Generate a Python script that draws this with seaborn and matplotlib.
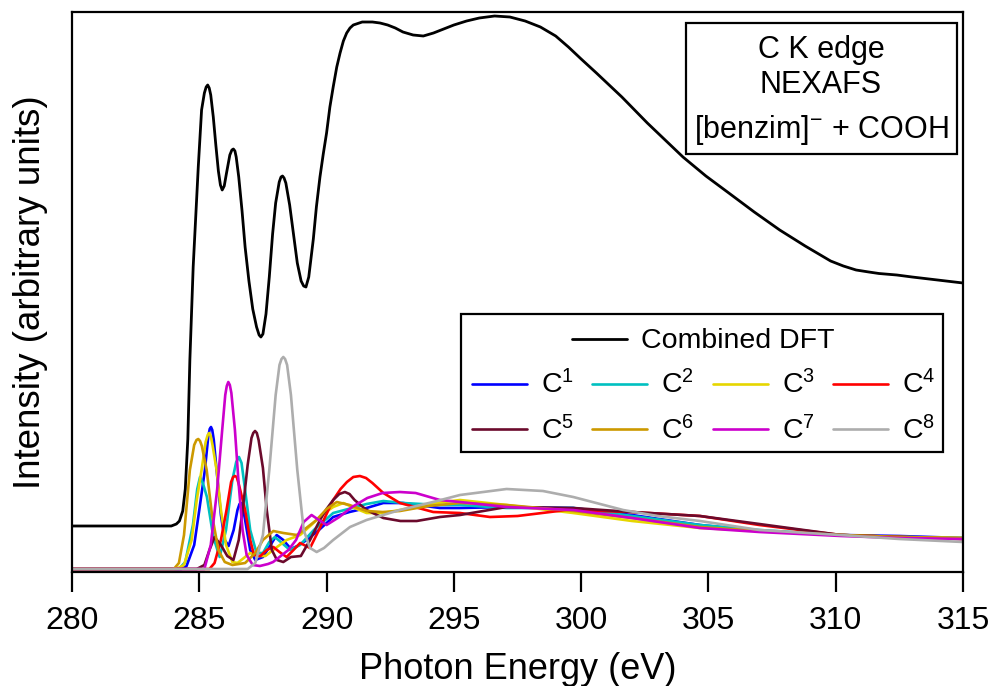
import matplotlib
matplotlib.use("Agg")
import matplotlib.pyplot as plt
import seaborn as sns
from matplotlib.lines import Line2D
from matplotlib.patches import Rectangle

# ---------------- data ----------------
combined_E = [280, 283.9, 284.1, 284.22, 284.35, 284.45, 284.55, 284.63, 284.76, 284.88, 284.96,
              285.09, 285.2, 285.27, 285.33, 285.39, 285.45, 285.55, 285.65, 285.75, 285.83, 285.9,
              285.98, 286.07, 286.2, 286.28, 286.34, 286.4, 286.45, 286.55, 286.68, 286.8, 286.95,
              287.1, 287.25, 287.35, 287.42, 287.5, 287.62, 287.75, 287.88, 288.0, 288.14, 288.21,
              288.27, 288.33, 288.4, 288.55, 288.7, 288.85, 289.0, 289.1, 289.19, 289.3, 289.48,
              289.6, 289.74, 289.87, 290.0, 290.13, 290.26, 290.4, 290.53, 290.66, 290.79, 290.92,
              291.05, 291.4, 291.8, 292.1, 292.4, 292.7, 293.0, 293.4, 293.8, 294.2, 294.6, 295.0,
              295.5, 296.0, 296.6, 297.2, 297.8, 298.4, 299.0, 299.5, 300.0, 300.6, 301.1, 301.6,
              302.1, 302.6, 303.3, 304.0, 304.9, 305.8, 306.8, 307.8, 308.8, 309.8, 310.3, 310.8,
              311.3, 311.7, 312.4, 313.0, 314.0, 315.0]
combined_I = [0.43, 0.43, 0.45, 0.48, 0.58, 0.80, 1.30, 2.09, 3.02, 3.62, 4.02,
              4.59, 4.76, 4.82, 4.84, 4.81, 4.74, 4.52, 4.24, 3.98, 3.84, 3.79,
              3.83, 3.96, 4.14, 4.19, 4.20, 4.18, 4.12, 3.92, 3.58, 3.22, 2.88,
              2.60, 2.42, 2.34, 2.32, 2.35, 2.55, 2.92, 3.35, 3.66, 3.87, 3.92,
              3.93, 3.91, 3.86, 3.64, 3.35, 3.06, 2.88, 2.83, 2.82, 2.92, 3.30,
              3.62, 3.92, 4.15, 4.36, 4.62, 4.82, 5.02, 5.16, 5.28, 5.36, 5.41,
              5.44, 5.47, 5.47, 5.46, 5.44, 5.41, 5.37, 5.34, 5.33, 5.36, 5.40, 5.44,
              5.48, 5.51, 5.53, 5.52, 5.48, 5.42, 5.33, 5.22, 5.10, 4.96, 4.84, 4.72,
              4.59, 4.46, 4.29, 4.12, 3.93, 3.76, 3.57, 3.39, 3.23, 3.08, 3.03, 2.99,
              2.97, 2.955, 2.94, 2.92, 2.89, 2.86]

c1_E = [280, 284.3, 284.5, 284.8, 285.0, 285.22, 285.35, 285.41, 285.46, 285.51, 285.57, 285.68,
        285.85, 286.0, 286.15, 286.35, 286.5, 286.58, 286.64, 286.7, 286.8, 287.0, 287.2, 287.5,
        287.8, 288.04, 288.3, 288.6, 288.85, 289.22, 289.7, 290.26, 290.9, 291.57, 292.23, 293.0,
        294.45, 295.24, 297.07, 299.69, 302.0, 304.67, 307.0, 310.2, 312.5, 315]
c1_I = [0, 0, 0.03, 0.24, 0.59, 0.99, 1.32, 1.40, 1.42, 1.39, 1.29, 0.99,
        0.54, 0.29, 0.23, 0.39, 0.59, 0.65, 0.66, 0.63, 0.49, 0.19, 0.09, 0.12,
        0.24, 0.34, 0.29, 0.20, 0.23, 0.29, 0.39, 0.52, 0.57, 0.61, 0.66, 0.66,
        0.61, 0.61, 0.62, 0.61, 0.54, 0.44, 0.38, 0.34, 0.33, 0.31]

c2_E = [280, 284.2, 284.45, 284.75, 284.92, 285.03, 285.14, 285.3, 285.55, 285.8, 286.05, 286.3,
        286.45, 286.56, 286.66, 286.8, 287.0, 287.25, 287.5, 287.75, 287.97, 288.2, 288.56,
        288.96, 289.5, 290.26, 291.0, 291.57, 292.23, 293.0, 294.45, 295.24, 297.07, 299.69,
        302.0, 304.67, 307.0, 310.2, 312.5, 315]
c2_I = [0, 0, 0.07, 0.44, 0.80, 0.92, 0.86, 0.72, 0.32, 0.12, 0.39, 0.89,
        1.07, 1.12, 1.06, 0.79, 0.39, 0.16, 0.16, 0.27, 0.32, 0.27, 0.19,
        0.24, 0.39, 0.56, 0.61, 0.65, 0.68, 0.66, 0.64, 0.64, 0.61, 0.61,
        0.53, 0.44, 0.39, 0.34, 0.32, 0.31]

c3_E = [280, 284.1, 284.4, 284.7, 284.9, 285.09, 285.25, 285.33, 285.39, 285.45, 285.52, 285.68,
        285.85, 286.05, 286.3, 286.5, 286.75, 287.0, 287.3, 287.6, 288.0, 288.43, 288.96, 289.4,
        289.8, 290.26, 290.66, 291.1, 291.57, 292.2, 292.88, 294.0, 295.24, 297.07, 299.69,
        302.0, 304.67, 307.0, 310.2, 312.5, 315]
c3_I = [0, 0, 0.04, 0.29, 0.69, 0.99, 1.27, 1.34, 1.36, 1.33, 1.24, 0.99,
        0.59, 0.24, 0.07, 0.06, 0.11, 0.16, 0.13, 0.13, 0.21, 0.29, 0.34, 0.44,
        0.54, 0.62, 0.66, 0.61, 0.56, 0.56, 0.59, 0.65, 0.69, 0.64, 0.56,
        0.48, 0.41, 0.38, 0.34, 0.32, 0.31]

c4_E = [280, 285.4, 285.6, 285.85, 286.07, 286.25, 286.33, 286.4, 286.47, 286.55, 286.8, 287.0,
        287.15, 287.4, 287.65, 287.91, 288.15, 288.43, 288.7, 288.96, 289.35, 289.7, 290.0,
        290.26, 290.55, 290.8, 291.05, 291.31, 291.55, 291.8, 292.23, 292.88, 294.19, 295.24,
        296.42, 297.5, 299.43, 302.0, 304.67, 307.0, 310.2, 312.5, 315]
c4_I = [0, 0, 0.06, 0.29, 0.59, 0.87, 0.92, 0.93, 0.92, 0.85, 0.59, 0.29,
        0.14, 0.13, 0.19, 0.22, 0.17, 0.12, 0.19, 0.26, 0.21, 0.39, 0.55,
        0.69, 0.80, 0.87, 0.92, 0.93, 0.91, 0.86, 0.76, 0.66, 0.57, 0.56,
        0.52, 0.53, 0.59, 0.57, 0.53, 0.44, 0.34, 0.32, 0.30]

c5_E = [280, 284.9, 285.2, 285.4, 285.6, 285.85, 286.1, 286.34, 286.55, 286.75, 286.9, 287.05,
        287.12, 287.19, 287.26, 287.33, 287.5, 287.65, 287.85, 288.05, 288.3, 288.6, 288.99,
        289.35, 289.74, 290.0, 290.26, 290.5, 290.72, 290.9, 291.1, 291.57, 292.23, 292.9,
        293.54, 294.45, 295.24, 297.07, 299.69, 302.0, 304.67, 307.0, 310.2, 312.5, 315]
c5_I = [0, 0, 0.04, 0.19, 0.32, 0.24, 0.13, 0.09, 0.29, 0.69, 1.04, 1.31,
        1.36, 1.38, 1.36, 1.29, 1.01, 0.59, 0.19, 0.09, 0.07, 0.12, 0.13,
        0.29, 0.49, 0.60, 0.69, 0.75, 0.77, 0.75, 0.69, 0.59, 0.51, 0.48,
        0.48, 0.52, 0.54, 0.62, 0.61, 0.57, 0.53, 0.45, 0.34, 0.32, 0.30]

c6_E = [280, 284.0, 284.2, 284.4, 284.63, 284.8, 284.89, 284.96, 285.03, 285.1, 285.29, 285.5,
        285.75, 286.0, 286.3, 286.8, 287.2, 287.5, 287.91, 288.3, 288.83, 289.1, 289.61, 290.0,
        290.4, 290.9, 291.57, 292.2, 292.88, 294.0, 295.24, 297.07, 299.69, 302.0, 304.67,
        307.0, 310.2, 312.5, 315]
c6_I = [0, 0, 0.06, 0.34, 0.99, 1.24, 1.29, 1.30, 1.28, 1.23, 0.99, 0.54,
        0.19, 0.07, 0.04, 0.06, 0.16, 0.29, 0.38, 0.36, 0.34, 0.39, 0.49, 0.60,
        0.67, 0.64, 0.58, 0.57, 0.58, 0.63, 0.66, 0.64, 0.58, 0.51, 0.42,
        0.38, 0.34, 0.32, 0.31]

c7_E = [280, 285.2, 285.45, 285.7, 285.9, 286.02, 286.08, 286.14, 286.2, 286.26, 286.4, 286.55,
        286.7, 286.86, 287.1, 287.38, 287.7, 287.9, 288.2, 288.5, 288.8, 289.1, 289.41, 289.7,
        290.0, 290.5, 291.0, 291.6, 292.2, 292.88, 293.5, 294.45, 295.24, 297.07, 299.69, 302.0,
        304.67, 307.0, 310.2, 312.5, 315]
c7_I = [0, 0, 0.24, 0.79, 1.39, 1.74, 1.83, 1.87, 1.84, 1.76, 1.39, 0.84,
        0.39, 0.14, 0.04, 0.03, 0.05, 0.07, 0.13, 0.19, 0.29, 0.47, 0.54, 0.49,
        0.44, 0.52, 0.62, 0.71, 0.76, 0.77, 0.76, 0.69, 0.67, 0.62, 0.59, 0.51,
        0.41, 0.37, 0.33, 0.31, 0.30]

c8_E = [280, 286.9, 287.2, 287.5, 287.75, 288.0, 288.15, 288.23, 288.3, 288.37, 288.45, 288.6,
        288.85, 289.1, 289.35, 289.61, 289.9, 290.26, 290.92, 291.57, 292.88, 294.18, 295.24,
        297.07, 298.5, 299.69, 301.65, 303.0, 304.67, 307.0, 310.16, 312.5, 315]
c8_I = [0, 0, 0.06, 0.34, 0.99, 1.74, 2.04, 2.10, 2.12, 2.10, 2.04, 1.74,
        0.99, 0.39, 0.21, 0.17, 0.21, 0.29, 0.42, 0.49, 0.59, 0.67, 0.74,
        0.80, 0.78, 0.72, 0.59, 0.53, 0.48, 0.39, 0.34, 0.30, 0.27]

component_labels = ["C$^{1}$", "C$^{2}$", "C$^{3}$", "C$^{4}$",
                    "C$^{5}$", "C$^{6}$", "C$^{7}$", "C$^{8}$"]
component_colors = ["#0000FF", "#00C0C0", "#E6D600", "#FF0000",
                    "#6B0A2C", "#CC9900", "#CC00CC", "#ADADAD"]
x_ticks = [280, 285, 290, 295, 300, 305, 310, 315]

# ---------------- styling ----------------
sns.set_theme(style="ticks")
plt.rcParams["font.family"] = ["Liberation Sans", "DejaVu Sans"]
plt.rcParams["mathtext.fontset"] = "custom"
plt.rcParams["mathtext.rm"] = "Liberation Sans"
plt.rcParams["mathtext.it"] = "Liberation Sans:italic"
plt.rcParams["mathtext.default"] = "regular"
for k in ["text.color", "axes.labelcolor", "xtick.color", "ytick.color", "axes.edgecolor"]:
    plt.rcParams[k] = "black"

W, H = 993, 686
fig = plt.figure(figsize=(W / 100, H / 100), dpi=100)

def fx(px):
    return px / W

def fy(py):
    return 1 - py / H

ax = fig.add_axes([fx(72), fy(572), fx(963) - fx(72), fy(12) - fy(572)])

LW_C = 1.9
components = [(c1_E, c1_I), (c2_E, c2_I), (c3_E, c3_I), (c4_E, c4_I),
              (c5_E, c5_I), (c6_E, c6_I), (c7_E, c7_I), (c8_E, c8_I)]
for (e, i), col in zip(components, component_colors):
    sns.lineplot(x=e, y=i, ax=ax, color=col, linewidth=LW_C, legend=False,
                 sort=False, estimator=None)
sns.lineplot(x=combined_E, y=combined_I, ax=ax, color="black", linewidth=2.0,
             legend=False, sort=False, estimator=None)

ax.set_xlim(280, 315)
ax.set_ylim(-0.03, 5.57)
ax.set_xticks(x_ticks)
ax.set_xticklabels([str(t) for t in x_ticks])
ax.set_yticks([])
ax.tick_params(axis="x", direction="out", length=14.4, width=1.6, pad=10, labelsize=23)
for s in ax.spines.values():
    s.set_linewidth(1.6)
    s.set_color("black")
ax.set_xlabel("Photon Energy (eV)", fontsize=26, labelpad=11.5)
ax.set_ylabel("Intensity (arbitrary units)", fontsize=26.5, labelpad=17)

# ---------------- annotation box ----------------
ax.add_patch(Rectangle((fx(685.5), fy(153.5)), fx(956.5) - fx(685.5), fy(22.5) - fy(153.5),
                       transform=fig.transFigure, facecolor="white", edgecolor="black",
                       linewidth=1.6, clip_on=False, zorder=10))
cx = fx(821)
ax.text(cx, fy(58.3), "C K edge", transform=fig.transFigure, ha="center", va="baseline",
        fontsize=22, zorder=11)
ax.text(cx, fy(93.3), "NEXAFS", transform=fig.transFigure, ha="center", va="baseline",
        fontsize=22, zorder=11)
ax.text(cx, fy(138.3), "[benzim]$^{-}$ + COOH", transform=fig.transFigure, ha="center",
        va="baseline", fontsize=22, zorder=11)

# ---------------- legend ----------------
ax.add_patch(Rectangle((fx(461), fy(451.5)), fx(942.5) - fx(461), fy(314.5) - fy(451.5),
                       transform=fig.transFigure, facecolor="white", edgecolor="black",
                       linewidth=1.6, clip_on=False, zorder=8))
fs_leg = 20.5
h_comb = [Line2D([], [], color="black", linewidth=2.0)]
leg1 = ax.legend(h_comb, ["Combined DFT"], loc="center", bbox_to_anchor=(fx(703.5), fy(341.5)),
                 bbox_transform=fig.transFigure, frameon=False, fontsize=fs_leg,
                 handlelength=1.93, handletextpad=0.49, borderpad=0, borderaxespad=0)
leg1.set_zorder(12)
ax.add_artist(leg1)

order = [0, 4, 1, 5, 2, 6, 3, 7]
handles = [Line2D([], [], color=component_colors[k], linewidth=LW_C) for k in order]
labels = [component_labels[k] for k in order]
leg2 = ax.legend(handles, labels, ncol=4, loc="center", bbox_to_anchor=(fx(703.5), fy(408)),
                 bbox_transform=fig.transFigure, frameon=False, fontsize=fs_leg,
                 handlelength=1.93, handletextpad=0.49, columnspacing=0.65,
                 labelspacing=0.58, borderpad=0, borderaxespad=0)
leg2.set_zorder(12)

fig.savefig("out.png", dpi=100)
